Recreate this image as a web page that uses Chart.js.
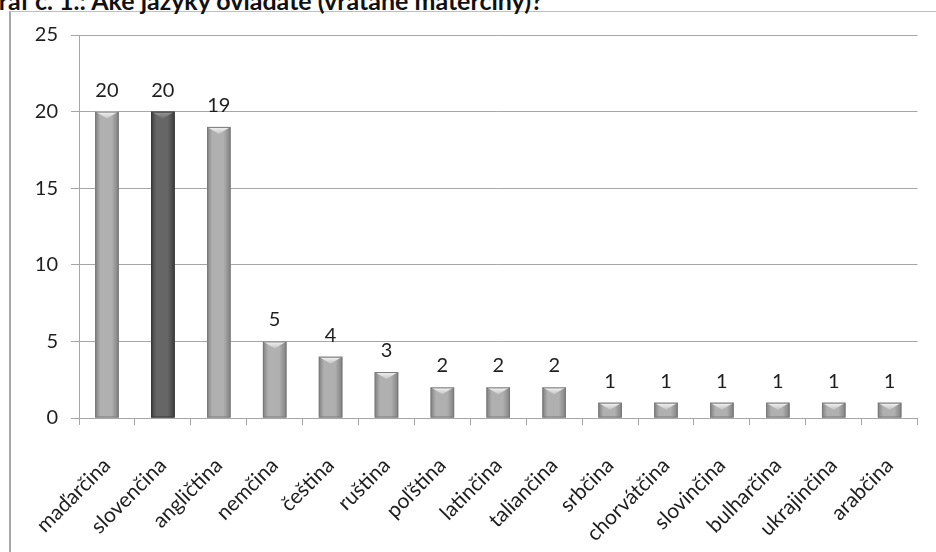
<!DOCTYPE html>
<html>
<head>
<meta charset="utf-8">
<script src="https://cdn.jsdelivr.net/npm/chart.js@4"></script>
<style>
    html, body { margin: 0; padding: 0; background: #fff; }
    #wrap { position: relative; width: 936px; height: 552px; overflow: hidden; }
    #frame { position: absolute; left: 9px; top: 11px; right: 0; bottom: 0;
             border-left: 2px solid #a8a8a8; border-top: 1px solid #c0c0c0; }
    #title { position: absolute; top: -15px; left: 0; white-space: nowrap; line-height: 25px;
             font: bold 25px Lato, "Open Sans", sans-serif; color: #111; }
    canvas { position: absolute; left: 0; top: 0; }
</style>
</head>
<body>
<div id="wrap">
    <div id="frame"></div>
    <div id="title">Graf č. 1.: Aké jazyky ovládate (vrátane materčiny)?</div>
    <canvas id="langChart" width="936" height="552"></canvas>
</div>
<script>
// Data
const languages = ["maďarčina", "slovenčina", "angličtina", "nemčina", "čeština", "ruština",
    "poľština", "latinčina", "taliančina", "srbčina", "chorvátčina", "slovinčina",
    "bulharčina", "ukrajinčina", "arabčina"];
const respondents = [20, 20, 19, 5, 4, 3, 2, 2, 2, 1, 1, 1, 1, 1, 1];
const highlighted = ["slovenčina"];
const yMin = 0, yMax = 25, yStep = 5;

document.addEventListener("DOMContentLoaded", function () {

    // shift title so that the "G" is cut off by the page edge like in the scan
    const title = document.getElementById("title");
    const mctx = document.createElement("canvas").getContext("2d");
    mctx.font = "bold 25px Lato";
    title.style.left = (-mctx.measureText("G").width - 1) + "px";

    const FONT = "Lato, 'Open Sans', sans-serif";
    const TEXT = "#1e1e1e";
    const GRID = "#a6a6a6";

    // bevelled bar look drawn on top of the library's bar elements
    const bevelPlugin = {
        id: "bevel",
        afterDatasetsDraw(chart) {
            const ctx = chart.ctx;
            const meta = chart.getDatasetMeta(0);
            meta.data.forEach((bar, i) => {
                const p = bar.getProps(["x", "y", "base", "width"], true);
                const l = p.x - p.width / 2, r = p.x + p.width / 2;
                const h = p.base - p.y;
                const dark = highlighted.includes(languages[i]);
                const edge = dark ? "#3e3e3e" : "#7f7f7f";
                const mid = dark ? "#666" : "#b0b0b0";
                ctx.save();
                const g = ctx.createLinearGradient(l, 0, r, 0);
                g.addColorStop(0, edge);
                g.addColorStop(0.22, mid);
                g.addColorStop(0.7, mid);
                g.addColorStop(1, edge);
                ctx.fillStyle = g;
                ctx.fillRect(l, p.y, p.width, h);
                // top chevron
                const b = Math.min(7, h / 2);
                const tg = ctx.createLinearGradient(0, p.y, 0, p.y + b);
                tg.addColorStop(0, dark ? "#9a9a9a" : "#f6f6f6");
                tg.addColorStop(1, dark ? "#707070" : "#c4c4c4");
                ctx.fillStyle = tg;
                ctx.beginPath();
                ctx.moveTo(l, p.y);
                ctx.lineTo(r, p.y);
                ctx.lineTo(p.x, p.y + b);
                ctx.closePath();
                ctx.fill();
                ctx.strokeStyle = dark ? "#383838" : "#7a7a7a";
                ctx.lineWidth = 1;
                ctx.strokeRect(l + 0.5, p.y + 0.5, p.width - 1, h - 1);
                ctx.restore();
            });
        }
    };

    // value labels above the bars
    const valueLabels = {
        id: "valueLabels",
        afterDatasetsDraw(chart) {
            const ctx = chart.ctx;
            const meta = chart.getDatasetMeta(0);
            ctx.save();
            ctx.font = "20px " + FONT;
            ctx.fillStyle = TEXT;
            ctx.textAlign = "center";
            ctx.textBaseline = "alphabetic";
            meta.data.forEach((bar, i) => {
                ctx.fillText(String(respondents[i]), bar.x, bar.y - 15);
            });
            ctx.restore();
        }
    };

    new Chart(document.getElementById("langChart"), {
        type: "bar",
        data: {
            labels: languages,
            datasets: [{
                data: respondents,
                backgroundColor: languages.map(l => highlighted.includes(l) ? "#5c5c5c" : "#a8a8a8"),
                borderWidth: 0,
                categoryPercentage: 1,
                barPercentage: 0.42
            }]
        },
        options: {
            responsive: false,
            animation: false,
            layout: { padding: { left: 0, top: 35, right: 17, bottom: 0 } },
            plugins: {
                legend: { display: false },
                title: { display: false },
                tooltip: { enabled: false }
            },
            scales: {
                y: {
                    min: yMin,
                    max: yMax,
                    ticks: { stepSize: yStep, padding: 13, color: TEXT, font: { family: FONT, size: 20 } },
                    grid: { color: GRID, tickLength: 8 },
                    border: { color: GRID },
                    afterFit: s => { s.width = 79; }
                },
                x: {
                    ticks: { minRotation: 45, maxRotation: 45, padding: 28, color: TEXT,
                             font: { family: FONT, size: 21 } },
                    grid: { drawOnChartArea: false, color: GRID, tickLength: 7 },
                    border: { color: GRID },
                    afterFit: s => { s.height = 134; }
                }
            }
        },
        plugins: [bevelPlugin, valueLabels]
    });
});
</script>
</body>
</html>
